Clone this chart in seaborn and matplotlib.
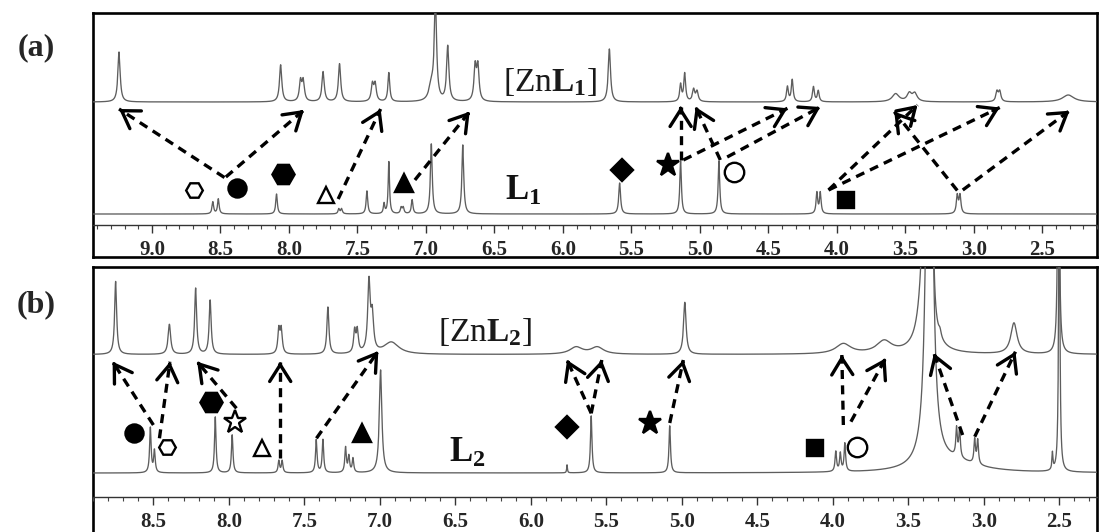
import numpy as np
import pandas as pd
import matplotlib
matplotlib.use("Agg")
import matplotlib.pyplot as plt
import seaborn as sns
from matplotlib.ticker import MultipleLocator

# ---------------- data ----------------
# Panel (a): [ZnL1] complex spectrum (peak ppm, height, half-width)
zn1_ppm = [9.24, 8.06, 7.915, 7.895, 7.75, 7.63, 7.39, 7.37, 7.27, 6.96, 6.93, 6.84,
           6.64, 6.62, 5.66, 5.14, 5.11, 5.045, 5.02, 4.36, 4.325, 4.17, 4.135,
           3.57, 3.47, 3.43, 2.83, 2.81, 2.31]
zn1_height = [50, 37, 20, 20, 30, 38, 17, 17, 29, 15, 100, 55,
              34, 34, 53, 17, 28, 12, 10, 15, 22, 15, 11,
              8, 8, 8, 10, 10, 7]
zn1_width = [0.010, 0.010, 0.010, 0.010, 0.010, 0.010, 0.010, 0.010, 0.008, 0.02, 0.010, 0.010,
             0.010, 0.010, 0.010, 0.008, 0.008, 0.010, 0.010, 0.008, 0.008, 0.008, 0.008,
             0.03, 0.02, 0.02, 0.010, 0.010, 0.05]

# Panel (a): free ligand L1
l1_ppm = [8.555, 8.515, 8.09, 7.635, 7.615, 7.43, 7.305, 7.27, 7.18, 7.165, 7.10,
          6.96, 6.73, 5.585, 5.14, 4.86, 4.145, 4.12, 3.12, 3.10]
l1_height = [12, 15, 20, 5, 5, 23, 10, 52, 6, 6, 14,
             70, 69, 31, 53, 53, 21, 21, 18, 18]
l1_width = [0.007, 0.007, 0.007, 0.007, 0.007, 0.007, 0.006, 0.006, 0.007, 0.007, 0.007,
            0.008, 0.008, 0.008, 0.007, 0.007, 0.007, 0.007, 0.008, 0.008]

# Panel (b): [ZnL2] complex spectrum
zn2_ppm = [8.75, 8.394, 8.22, 8.124, 7.669, 7.653, 7.344, 7.167, 7.149, 7.072, 7.05,
           6.924, 5.70, 5.56, 4.98, 3.93, 3.66, 3.385, 3.345, 3.29, 2.80, 2.505]
zn2_height = [73, 30, 66, 54, 24, 24, 47, 22, 22, 70, 35,
              12, 7, 7, 52, 10, 12, 200, 400, 6, 31, 300]
zn2_width = [0.008, 0.010, 0.008, 0.008, 0.008, 0.008, 0.008, 0.008, 0.008, 0.010, 0.010,
             0.06, 0.05, 0.05, 0.010, 0.06, 0.06, 0.028, 0.006, 0.010, 0.025, 0.006]

# Panel (b): free ligand L2
l2_ppm = [8.52, 8.493, 8.09, 7.978, 7.669, 7.647, 7.421, 7.377, 7.227, 7.205, 7.178,
          6.995, 5.76, 5.60, 5.08, 3.98, 3.95, 3.92, 3.36, 3.20, 3.18, 3.16, 3.06, 3.04,
          2.545, 2.50]
l2_height = [45, 22, 56, 38, 12, 12, 33, 33, 25, 16, 14,
             103, 8, 57, 47, 20, 18, 28, 700, 10, 28, 28, 24, 24,
             17, 300]
l2_width = [0.006, 0.006, 0.006, 0.006, 0.006, 0.006, 0.006, 0.006, 0.006, 0.006, 0.006,
            0.010, 0.003, 0.006, 0.006, 0.006, 0.006, 0.006, 0.018, 0.20, 0.006, 0.006, 0.006, 0.006,
            0.004, 0.005]

a_tick_labels = ["9.0", "8.5", "8.0", "7.5", "7.0", "6.5", "6.0", "5.5", "5.0",
                 "4.5", "4.0", "3.5", "3.0", "2.5"]
b_tick_labels = ["8.5", "8.0", "7.5", "7.0", "6.5", "6.0", "5.5", "5.0",
                 "4.5", "4.0", "3.5", "3.0", "2.5"]

# assignment symbols (ppm position, height above axis)
a_sym_ppm = [8.69, 8.38, 8.04, 7.73, 7.16, 5.57, 5.23, 4.75, 3.93]
a_sym_y = [34.5, 37, 51, 29.5, 42, 55, 60, 53, 25]
a_sym_kind = ["hex_open", "circle", "hex", "tri_open", "tri", "diamond", "star", "circle_open", "square"]

b_sym_ppm = [8.63, 8.41, 8.12, 7.96, 7.78, 7.12, 5.76, 5.21, 4.12, 3.84]
b_sym_y = [63.7, 50.3, 95.3, 74.7, 48.7, 63.7, 70.3, 73.7, 48.7, 50.3]
b_sym_kind = ["circle", "hex_open", "hex", "star_open", "tri_open", "tri", "diamond", "star", "square", "circle_open"]

# correspondence arrows (ligand signal -> complex signal)
a_arr_from_ppm = [8.47, 8.46, 7.64, 7.08, 5.14, 5.12, 4.85, 4.80, 4.06, 4.06, 3.12, 3.08]
a_arr_from_y = [47.5, 48, 26, 45, 65, 65, 65, 68, 35, 35, 34.5, 35]
a_arr_to_ppm = [9.24, 7.89, 7.33, 6.68, 5.14, 4.36, 5.03, 4.12, 3.41, 2.81, 3.58, 2.30]
a_arr_to_y = [116, 115, 116, 113.3, 118.3, 116.7, 118, 118, 120, 117.5, 113.3, 114.3]

b_arr_from_ppm = [8.50, 8.46, 7.95, 7.66, 7.42, 5.60, 5.60, 5.08, 3.93, 3.88, 3.14, 3.06]
b_arr_from_y = [72, 58.7, 88.7, 38.7, 58.7, 83.7, 83.7, 74, 72, 75.3, 62, 60.3]
b_arr_to_ppm = [8.77, 8.39, 8.21, 7.66, 7.01, 5.76, 5.53, 4.99, 3.94, 3.65, 3.33, 2.79]
b_arr_to_y = [135.3, 135.3, 135.3, 135.3, 146, 137, 137, 137, 142, 138.7, 143.7, 145.3]

# ---------------- style ----------------
sns.set_style("white")
plt.rcParams["font.family"] = ["Liberation Serif", "DejaVu Serif"]
plt.rcParams["mathtext.fontset"] = "custom"
plt.rcParams["mathtext.rm"] = "Liberation Serif"
plt.rcParams["mathtext.bf"] = "Liberation Serif:bold"
plt.rcParams["mathtext.it"] = "Liberation Serif:italic"

W, H = 1100, 532
fig = plt.figure(figsize=(W / 100, H / 100), dpi=100)
fig.patch.set_facecolor("white")


def rect(left, top, right, bottom):
    return [left / W, 1 - bottom / H, (right - left) / W, (bottom - top) / H]


grid = np.arange(1.9, 9.6, 0.0005)


def spectrum(ppm, height, width):
    y = np.zeros_like(grid)
    for p, h, w in zip(ppm, height, width):
        y += h / (1 + ((grid - p) / w) ** 2)
    return y


SPEC_COLOR = "#5e5e5e"

sym_style = {
    "circle": dict(marker="o", ms=13, mfc="black"),
    "circle_open": dict(marker="o", ms=14, mfc="white"),
    "hex": dict(marker="H", ms=16, mfc="black"),
    "hex_open": dict(marker="H", ms=12, mfc="white"),
    "tri": dict(marker="^", ms=13, mfc="black"),
    "tri_open": dict(marker="^", ms=12, mfc="white"),
    "diamond": dict(marker="D", ms=11, mfc="black"),
    "star": dict(marker="*", ms=17, mfc="black"),
    "star_open": dict(marker="*", ms=17, mfc="white"),
    "square": dict(marker="s", ms=12, mfc="black"),
}


def dashed_arrow(ax, x0, y0, x1, y1):
    ax.plot([x0, x1], [y0, y1], color="black", lw=2.4,
            linestyle=(0, (2.7, 1.9)), dash_capstyle="butt", clip_on=False, zorder=5)
    xb = x1 - 0.04 * (x1 - x0)
    yb = y1 - 0.04 * (y1 - y0)
    ax.annotate("", xy=(x1, y1), xytext=(xb, yb),
                arrowprops=dict(arrowstyle="->,head_length=0.6,head_width=0.38",
                                lw=2.4, color="black", shrinkA=0, shrinkB=0,
                                mutation_scale=20), zorder=6)


def make_panel(frame_box, axis_box, xlim, ytop, specs, offsets, tick_labels,
               sym_ppm, sym_y, sym_kind, af_x, af_y, at_x, at_y,
               zn_label, zn_pos, l_label, l_pos):
    fr = fig.add_axes(rect(*frame_box))
    fr.set_xticks([])
    fr.set_yticks([])
    for s in fr.spines.values():
        s.set_visible(True)
        s.set_linewidth(1.9)
        s.set_color("black")
    fr.set_facecolor("white")

    ax = fig.add_axes(rect(*axis_box))
    ax.patch.set_visible(False)
    for k in ["top", "left", "right"]:
        ax.spines[k].set_visible(False)
    ax.spines["bottom"].set_visible(True)
    ax.spines["bottom"].set_linewidth(1.0)
    ax.spines["bottom"].set_color("#333333")

    for (ppm, hh, ww), off in zip(specs, offsets):
        df = pd.DataFrame({"ppm": grid, "intensity": spectrum(ppm, hh, ww) + off})
        sns.lineplot(data=df, x="ppm", y="intensity", ax=ax, color=SPEC_COLOR,
                     linewidth=0.95, estimator=None, sort=False)

    ax.set_xlim(*xlim)
    ax.set_ylim(0, ytop)
    ax.set_yticks([])
    ax.set_xlabel("")
    ax.set_ylabel("")
    ticks = [float(t) for t in tick_labels]
    ax.set_xticks(ticks, labels=tick_labels, fontweight="bold", fontsize=15)
    ax.xaxis.set_minor_locator(MultipleLocator(0.1))
    ax.tick_params(axis="x", which="major", direction="out", length=5.5, width=1.0,
                   color="#333333", pad=5, bottom=True)
    ax.tick_params(axis="x", which="minor", direction="out", length=3, width=0.8,
                   color="#444444", bottom=True)
    ax.tick_params(axis="y", left=False)

    for x, y, k in zip(sym_ppm, sym_y, sym_kind):
        st = sym_style[k]
        ax.plot([x], [y], linestyle="none", marker=st["marker"], ms=st["ms"],
                mfc=st["mfc"], mec="black", mew=1.7, clip_on=False, zorder=7)

    for x0, y0, x1, y1 in zip(af_x, af_y, at_x, at_y):
        dashed_arrow(ax, x0, y0, x1, y1)

    ax.text(zn_pos[0], zn_pos[1], zn_label, transform=ax.transAxes, fontsize=24,
            ha="center", va="center", color="#1a1a1a")
    ax.text(l_pos[0], l_pos[1], l_label, transform=ax.transAxes, fontsize=25,
            ha="center", va="center", color="#111111")
    return ax


make_panel((93, 13, 1097, 257), (93, 13, 1097, 225), (9.43, 2.10), 212,
           [(zn1_ppm, zn1_height, zn1_width), (l1_ppm, l1_height, l1_width)], [123, 11],
           a_tick_labels, a_sym_ppm, a_sym_y, a_sym_kind,
           a_arr_from_ppm, a_arr_from_y, a_arr_to_ppm, a_arr_to_y,
           r"$[\mathrm{Zn}\mathbf{L}_{\mathbf{1}}]$", (0.455, 0.675),
           r"$\mathbf{L}_{\mathbf{1}}$", (0.428, 0.16))

make_panel((93, 267, 1097, 540), (93, 267, 1097, 497), (8.90, 2.25), 230,
           [(zn2_ppm, zn2_height, zn2_width), (l2_ppm, l2_height, l2_width)], [142.5, 24],
           b_tick_labels, b_sym_ppm, b_sym_y, b_sym_kind,
           b_arr_from_ppm, b_arr_from_y, b_arr_to_ppm, b_arr_to_y,
           r"$[\mathrm{Zn}\mathbf{L}_{\mathbf{2}}]$", (0.39, 0.717),
           r"$\mathbf{L}_{\mathbf{2}}$", (0.3725, 0.191))

fig.text(36 / W, 1 - 48 / H, "(a)", fontsize=23, fontweight="bold", ha="center", va="center")
fig.text(36 / W, 1 - 305 / H, "(b)", fontsize=23, fontweight="bold", ha="center", va="center")

fig.savefig("out.png", dpi=100, facecolor="white")
